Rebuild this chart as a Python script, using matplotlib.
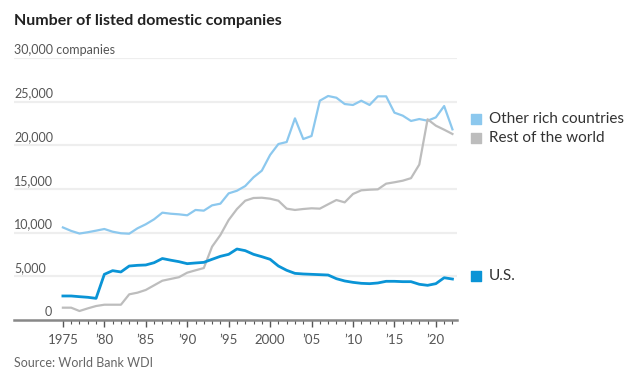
import matplotlib
matplotlib.use("Agg")
from matplotlib import pyplot as plt
import matplotlib.transforms as mtransforms
import numpy as np

years = list(range(1975, 2023))

# listed domestic companies
other_rich = [10600, 10200, 9900, 10050, 10230, 10420, 10110, 9930, 9880, 10500,
              10960, 11530, 12290, 12170, 12100, 11990, 12600, 12520, 13130, 13320,
              14500, 14800, 15340, 16340, 17100, 18900, 20150, 20380, 23090, 20720,
              21070, 25110, 25650, 25450, 24730, 24620, 25110, 24620, 25610, 25610,
              23740, 23400, 22790, 23010, 22820, 23200, 24500, 21830]
rest_world = [1410, 1410, 1030, 1330, 1600, 1750, 1750, 1750, 2940, 3130,
              3440, 3970, 4500, 4700, 4900, 5420, 5690, 5950, 8400, 9730,
              11450, 12710, 13660, 13970, 14000, 13890, 13660, 12750, 12600, 12710,
              12790, 12750, 13250, 13740, 13470, 14430, 14850, 14920, 14960, 15610,
              15770, 15950, 16240, 17800, 22980, 22250, 21790, 21300]
us = [2750, 2750, 2670, 2600, 2480, 5230, 5650, 5500, 6180, 6260,
      6300, 6560, 7040, 6850, 6680, 6450, 6530, 6600, 6950, 7290,
      7520, 8130, 7940, 7520, 7250, 6950, 6180, 5690, 5340, 5270,
      5230, 5190, 5150, 4730, 4470, 4310, 4200, 4160, 4240, 4430,
      4430, 4390, 4390, 4090, 3970, 4160, 4840, 4690]

series_names = ["Other rich countries", "Rest of the world", "U.S."]
series_colors = ["#8cc8ee", "#bdbdbd", "#0a94d6"]
series_widths = [1.6, 1.6, 2.0]

yticks = [0, 5000, 10000, 15000, 20000, 25000, 30000]
ytick_labels = ["0", "5,000", "10,000", "15,000", "20,000", "25,000", "30,000 companies"]
xticks = [1975, 1980, 1985, 1990, 1995, 2000, 2005, 2010, 2015, 2020]
xtick_labels = ["1975", "\u201980", "\u201985", "\u201990", "\u201995", "2000",
                "\u201905", "\u201910", "\u201915", "\u201920"]

plt.rcParams["font.family"] = ["Lato", "DejaVu Sans"]
text_color = "#333333"
label_color = "#555555"

fig = plt.figure(figsize=(6.26, 3.78), dpi=100)
ax = fig.add_axes([14 / 626, 58 / 378, 443 / 626, 262 / 378])
ax.set_xlim(1969.1, 2022.55)
ax.set_ylim(0, 30000)

# gridlines with labels sitting above them
trans = mtransforms.blended_transform_factory(ax.transAxes, ax.transData)
for v, lab in zip(yticks, ytick_labels):
    if v > 0:
        ax.axhline(v, color="#eeeeee", lw=1.6, zorder=0)
    ax.text(0 if v > 0 else 0.07, v + 250, lab, transform=trans, ha="left", va="bottom",
            fontsize=9, color=label_color)

for vals, c, w in zip([other_rich, rest_world, us], series_colors, series_widths):
    ax.plot(years, vals, color=c, lw=w, solid_joinstyle="round", zorder=3)

for s in ["top", "right", "left"]:
    ax.spines[s].set_visible(False)
ax.spines["bottom"].set_color("#888888")
ax.spines["bottom"].set_linewidth(1.8)
ax.set_yticks([])
ax.set_xticks(xticks)
ax.set_xticklabels(xtick_labels, fontsize=9.5, color=label_color)
ax.set_xticks(years, minor=True)
ax.tick_params(axis="x", which="major", length=5, width=1, color="#555555", pad=5)
ax.tick_params(axis="x", which="minor", length=3, width=0.8, color="#555555")

# legend entries beside the lines
legend_y = [23000, 20840, 5040]
for name, c, ly in zip(series_names, series_colors, legend_y):
    ax.scatter([2024.9], [ly], marker="s", s=60, color=c, clip_on=False, zorder=4)
    ax.text(2026.4, ly, name, fontsize=11, color=text_color, va="center", ha="left")

fig.text(14 / 626, 1 - 21 / 378, "Number of listed domestic companies", fontsize=11.5,
         fontweight="bold", color="#222222", va="center", ha="left")
fig.text(14 / 626, 1 - 363 / 378, "Source: World Bank WDI", fontsize=9,
         color="#666666", va="center", ha="left")

fig.savefig("out.png", dpi=100, facecolor="white")
